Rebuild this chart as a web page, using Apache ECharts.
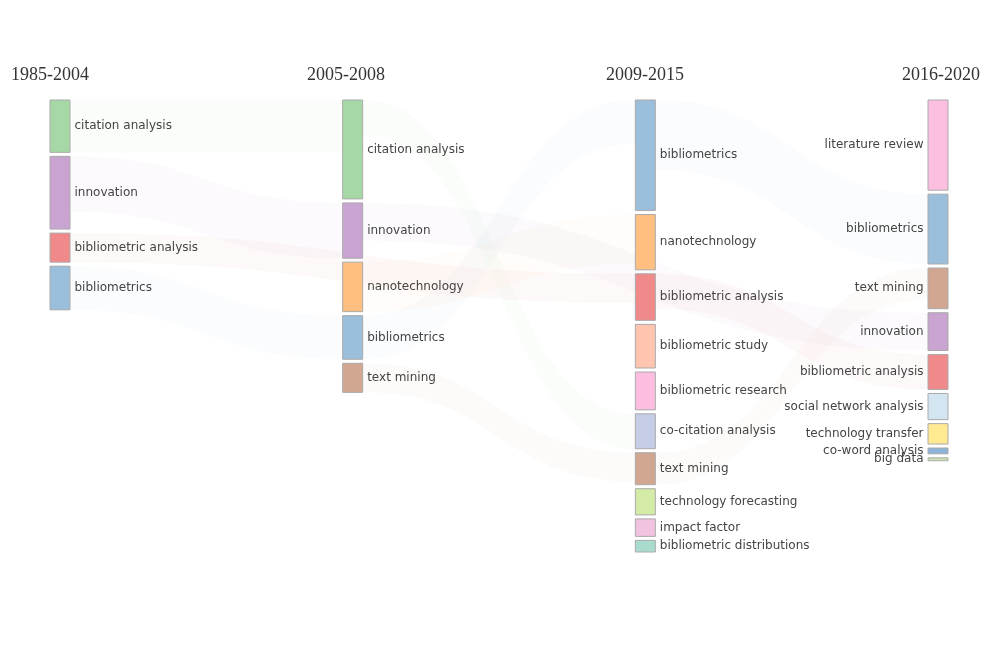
<!DOCTYPE html>
<html>
<head>
<meta charset="utf-8">
<script src="https://cdn.jsdelivr.net/npm/echarts@6/dist/echarts.min.js"></script>
<style>
    html, body { margin: 0; padding: 0; background: #fff; }
    #chart { width: 992px; height: 672px; }
</style>
</head>
<body>
<div id="chart"></div>
<script>
var periods = ['1985-2004', '2005-2008', '2009-2015', '2016-2020'];

// keywords and their counts, one pair of arrays per period
var keywords1 = ['citation analysis', 'innovation', 'bibliometric analysis', 'bibliometrics'];
var counts1 = [18, 25, 10, 15];

var keywords2 = ['citation analysis', 'innovation', 'nanotechnology', 'bibliometrics', 'text mining'];
var counts2 = [34, 19, 17, 15, 10];

var keywords3 = ['bibliometrics', 'nanotechnology', 'bibliometric analysis', 'bibliometric study',
    'bibliometric research', 'co-citation analysis', 'text mining', 'technology forecasting',
    'impact factor', 'bibliometric distributions'];
var counts3 = [38, 19, 16, 15, 13, 12, 11, 9, 6, 4];

var keywords4 = ['literature review', 'bibliometrics', 'text mining', 'innovation', 'bibliometric analysis',
    'social network analysis', 'technology transfer', 'co-word analysis', 'big data'];
var counts4 = [31, 24, 14, 13, 12, 9, 7, 2, 1];

// flows between periods: "period/keyword"
var linkSource = [
    '1985-2004/citation analysis', '1985-2004/innovation', '1985-2004/bibliometrics',
    '1985-2004/bibliometric analysis', '2005-2008/nanotechnology', '2005-2008/bibliometrics',
    '2005-2008/text mining', '2005-2008/citation analysis', '2005-2008/innovation',
    '2009-2015/bibliometrics', '2009-2015/text mining', '2009-2015/bibliometric analysis'
];
var linkTarget = [
    '2005-2008/citation analysis', '2005-2008/innovation', '2005-2008/bibliometrics',
    '2009-2015/bibliometric analysis', '2009-2015/nanotechnology', '2009-2015/bibliometrics',
    '2009-2015/text mining', '2009-2015/co-citation analysis', '2016-2020/innovation',
    '2016-2020/bibliometrics', '2016-2020/text mining', '2016-2020/bibliometric analysis'
];
var linkValue = [18, 19, 15, 10, 17, 15, 10, 12, 13, 24, 11, 12];

var keywordColors = {
    'citation analysis': '#a6d8a6',
    'innovation': '#caa4d0',
    'bibliometric analysis': '#f08a8a',
    'bibliometrics': '#9bbedb',
    'nanotechnology': '#ffbf80',
    'text mining': '#d2a791',
    'bibliometric study': '#ffc5b0',
    'bibliometric research': '#fcbde0',
    'co-citation analysis': '#c6cde6',
    'technology forecasting': '#d4eba7',
    'impact factor': '#f1c3e1',
    'bibliometric distributions': '#a9dccf',
    'literature review': '#fcbfe0',
    'social network analysis': '#d3e5f1',
    'technology transfer': '#ffea92',
    'co-word analysis': '#8cb4da',
    'big data': '#cce3b1'
};

var nodes = [];
function addNodes(depth, keywords, counts) {
    for (var i = 0; i < keywords.length; i++) {
        nodes.push({
            name: periods[depth] + '/' + keywords[i],
            value: counts[i],
            depth: depth,
            itemStyle: {color: keywordColors[keywords[i]]}
        });
    }
}
addNodes(0, keywords1, counts1);
addNodes(1, keywords2, counts2);
addNodes(2, keywords3, counts3);
addNodes(3, keywords4, counts4);

var links = [];
for (var i = 0; i < linkSource.length; i++) {
    links.push({source: linkSource[i], target: linkTarget[i], value: linkValue[i]});
}

var titleX = [50, 346, 645, 941];
var titles = periods.map(function (p, i) {
    return {
        type: 'text',
        x: titleX[i],
        y: 75,
        style: {
            text: p,
            align: 'center',
            verticalAlign: 'middle',
            font: '18px "Liberation Serif", "DejaVu Serif", serif',
            fill: '#333'
        }
    };
});

var chart = echarts.init(document.getElementById('chart'));
var option = {
    animation: false,
    backgroundColor: '#fff',
    graphic: titles,
    series: [{
        type: 'sankey',
        left: 50,
        right: 44,
        top: 100,
        bottom: 120,
        nodeWidth: 20,
        nodeGap: 4,
        layoutIterations: 0,
        draggable: false,
        data: nodes,
        links: links,
        label: {
            position: 'right',
            distance: 4,
            color: '#444',
            fontSize: 12,
            fontFamily: '"DejaVu Sans", Verdana, sans-serif',
            formatter: function (params) {
                return params.name.split('/')[1];
            }
        },
        levels: [{
            depth: 3,
            label: {position: 'left'}
        }],
        itemStyle: {
            borderColor: '#aaa',
            borderWidth: 1
        },
        lineStyle: {
            color: 'source',
            opacity: 0.05,
            curveness: 0.5
        },
        emphasis: {disabled: true}
    }]
};
chart.setOption(option);
</script>
</body>
</html>
